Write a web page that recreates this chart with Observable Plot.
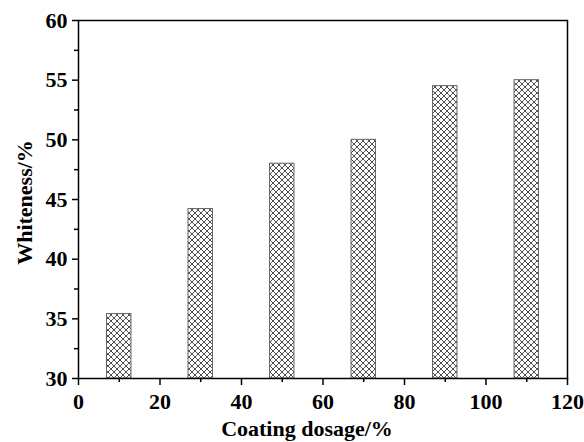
<!DOCTYPE html>
<html>
<head>
<meta charset="utf-8">
<script src="https://cdn.jsdelivr.net/npm/d3@7"></script>
<script src="https://cdn.jsdelivr.net/npm/@observablehq/plot@0.6"></script>
<style>
  html, body { margin: 0; padding: 0; background: #fff; }
</style>
</head>
<body>
<div id="chart"></div>
<script>
const dosage = [10, 30, 50, 70, 90, 110];
const whiteness = [35.4, 44.2, 48.0, 50.0, 54.5, 55.0];
const xMajorTicks = [0, 20, 40, 60, 80, 100, 120];
const xMinorTicks = [10, 30, 50, 70, 90, 110];
const yMajorTicks = [30, 35, 40, 45, 50, 55, 60];
const yMinorTicks = [32.5, 37.5, 42.5, 47.5, 52.5, 57.5];
const xTitle = "Coating dosage/%";
const yTitle = "Whiteness/%";

const data = dosage.map((d, i) => ({dosage: d, whiteness: whiteness[i]}));
const halfWidth = 3;
const fontFamily = "'Liberation Serif', 'Times New Roman', serif";
const font = {fontSize: 22, fontWeight: "bold", fontFamily, fill: "black"};

const chart = Plot.plot({
  width: 584,
  height: 442,
  marginLeft: 78,
  marginRight: 17,
  marginTop: 20,
  marginBottom: 64,
  style: {fontFamily, fontWeight: "bold", fontSize: "22px", color: "black", background: "white"},
  x: {domain: [0, 120]},
  y: {domain: [30, 60]},
  marks: [
    Plot.rectY(data, {
      x1: d => d.dosage - halfWidth,
      x2: d => d.dosage + halfWidth,
      y1: 30,
      y2: "whiteness",
      fill: "white",
      stroke: "#666",
      strokeWidth: 1,
      className: "hbars"
    }),
    Plot.axisX({ticks: xMajorTicks, tickSize: 7, tickPadding: 8, strokeWidth: 1.5, stroke: "black", label: null, ...font}),
    Plot.axisX({ticks: xMinorTicks, tickSize: 4, text: null, strokeWidth: 1.5, stroke: "black", label: null}),
    Plot.axisY({ticks: yMajorTicks, tickSize: 6, tickPadding: 5, strokeWidth: 1.5, stroke: "black", label: null, ...font}),
    Plot.axisY({ticks: yMinorTicks, tickSize: 4, text: null, strokeWidth: 1.5, stroke: "black", label: null}),
    Plot.frame({stroke: "black", strokeWidth: 1.5}),
    Plot.text([xTitle], {text: d => d, frameAnchor: "bottom", textAnchor: "middle", lineAnchor: "middle", dx: -16, dy: 50, ...font}),
    Plot.text([yTitle], {text: d => d, frameAnchor: "left", textAnchor: "middle", lineAnchor: "middle", rotate: -90, dx: -54, dy: 3, ...font})
  ]
});

// hatch pattern
const svg = d3.select(chart.tagName.toLowerCase() === "svg" ? chart : chart.querySelector("svg"));
const defs = svg.insert("defs", ":first-child");
const pat = defs.append("pattern")
  .attr("id", "hatch")
  .attr("patternUnits", "userSpaceOnUse")
  .attr("width", 6)
  .attr("height", 6);
pat.append("rect").attr("width", 6).attr("height", 6).attr("fill", "white");
pat.append("path").attr("d", "M0,0L6,6M6,0L0,6M-1,5L1,7M5,-1L7,1M-1,1L1,-1M5,7L7,5")
  .attr("stroke", "#222").attr("stroke-width", 0.8).attr("fill", "none");
svg.selectAll(".hbars, .hbars rect").attr("fill", "url(#hatch)");
// enforce tick label font
svg.selectAll("text").each(function() {
  this.style.fontSize = "22px";
  this.style.fontWeight = "bold";
  this.style.fontFamily = fontFamily;
});
svg.selectAll("g").filter(function() { return this.querySelector(":scope > text"); })
  .attr("font-size", 22).attr("font-weight", "bold").attr("font-family", fontFamily)
  .style("font-size", "22px").style("font-weight", "bold");

document.getElementById("chart").appendChild(chart);
</script>
</body>
</html>
